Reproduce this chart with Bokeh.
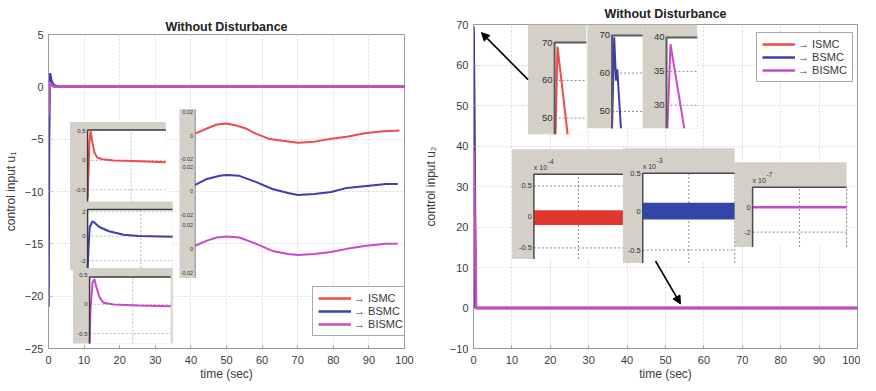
from bokeh.plotting import figure
from bokeh.layouts import row, column
from bokeh.models import Range1d, Legend, LegendItem, Arrow, NormalHead
from bokeh.core.properties import value
from bokeh.embed import file_html
from bokeh.resources import INLINE

FONT = "Liberation Sans"
TXT = "#3a3a3a"
GRAY = "#d4d0c8"
RED, BLUE, MAG = "#f24a4a", "#3c3cb4", "#c94ac9"
BAND_RED, BAND_BLUE = "#e0382e", "#3346a8"

# ---------------- data: left panel (control input u1) ----------------
x_ticks = [0, 10, 20, 30, 40, 50, 60, 70, 80, 90, 100]
u1_ticks = [5, 0, -5, -10, -15, -20, -25]
u1_ismc_t = [0, 0.2, 0.5, 1.0, 2.0, 100]
u1_ismc = [-0.6, 0.3, 0.5, 0.1, 0.0, 0.0]
u1_bsmc_t = [0, 0.15, 0.4, 0.8, 1.5, 3, 100]
u1_bsmc = [-21, -5, 1.3, 0.6, 0.15, 0.0, 0.0]
u1_bismc_t = [0, 0.2, 0.5, 1.0, 2.0, 100]
u1_bismc = [-2.9, -0.5, 0.45, 0.1, 0.0, 0.0]

# zoom of the start (insets A, B, C)
a_t = [0, 0.1, 0.2, 0.35, 0.55, 0.8, 1.1, 1.7, 3.0, 5.3, 9.0]
a_u = [-0.65, -0.2, 0.3, 0.5, 0.3, 0.13, 0.05, 0.02, 0.0, -0.01, -0.03]
a_ticks, a_labels = [0.5, 0, -0.5], ["0.5", "0", "-0.5"]
b_t = [0, 0.1, 0.2, 0.45, 0.65, 1.1, 2.0, 3.4, 4.8, 8.0]
b_u = [-2.6, -0.7, 0.75, 1.2, 1.1, 0.75, 0.4, 0.12, 0.02, -0.05]
b_ticks, b_labels = [2, 0, -2], ["2", "0", "-2"]
c_t = [0, 0.1, 0.35, 0.55, 0.8, 1.15, 1.6, 2.8, 5.6, 9.4]
c_u = [-0.67, -0.1, 0.38, 0.43, 0.29, 0.12, 0.03, 0.0, -0.02, -0.03]
c_ticks, c_labels = [0.5, 0, -0.5], ["0.5", "0", "-0.5"]

# zoom of the steady state (inset D)
d_red_t = [41.2, 44.5, 47.3, 50.0, 52.7, 55.5, 58.2, 61.8, 65.7, 70.1, 74.7, 79.4, 83.8, 88.5, 93.1, 98.6]
d_red = [0.0017, 0.0060, 0.0094, 0.0102, 0.0085, 0.0060, 0.0017, -0.0026, -0.0043, -0.0060,
         -0.0051, -0.0026, -0.0009, 0.0017, 0.0034, 0.0043]
d_blue_t = [41.2, 44.5, 48.1, 50.0, 53.6, 58.2, 62.9, 67.3, 70.1, 74.7, 79.4, 83.8, 89.3, 94.8, 98.1]
d_blue = [0.0051, 0.0102, 0.0128, 0.0136, 0.0128, 0.0077, 0.0017, -0.0017, -0.0034, -0.0026,
          -0.0009, 0.0026, 0.0043, 0.0060, 0.0060]
d_mag_t = [41.2, 44.5, 47.3, 50.0, 53.6, 58.2, 62.9, 67.3, 70.1, 74.7, 79.4, 83.8, 89.3, 94.8, 98.1]
d_mag = [0.0026, 0.0068, 0.0094, 0.0102, 0.0094, 0.0043, -0.0017, -0.0043, -0.0051, -0.0043,
         -0.0026, 0.0, 0.0026, 0.0043, 0.0043]
d_ticks, d_labels = [0.02, 0, -0.02], ["0.02", "0", "-0.02"]

# ---------------- data: right panel (control input u2) ----------------
u2_ticks = [70, 60, 50, 40, 30, 20, 10, 0, -10]
u2_ismc_t = [0, 0.03, 0.6, 100]
u2_ismc = [46, 68, 0, 0]
u2_bsmc_t = [0, 0.02, 0.5, 100]
u2_bsmc = [45, 69.5, 0, 0]
u2_bismc_t = [0, 0.03, 0.7, 100]
u2_bismc = [27, 38.8, 0, 0]

e_t, e_u = [0.03, 0.09, 0.41], [45.7, 69.0, 45.7]
e_ticks, e_labels, e_grid = [70, 60, 50], ["70", "60", "50"], [60, 50]
f_t, f_u = [0.0, 0.07, 0.13, 0.17, 0.29], [45.6, 69.3, 58.0, 61.0, 45.6]
f_ticks, f_labels, f_grid = [70, 60, 50], ["70", "60", "50"], [60, 50]
g_t, g_u = [0.03, 0.13, 0.58], [26.6, 39.0, 26.6]
g_ticks, g_labels, g_grid = [40, 35, 30], ["40", "35", "30"], [35, 30]

h_t, h_hi, h_lo = [0, 1], [0.11, 0.11], [-0.13, -0.13]
h_ticks, h_labels, h_grid, h_exp = [0.5, 0, -0.5], ["0.5", "0", "-0.5"], [0.5, -0.5], "-4"
i_t, i_hi, i_lo = [0, 1], [0.117, 0.117], [-0.104, -0.104]
i_ticks, i_labels, i_grid, i_exp = [0.5, 0, -0.5], ["0.5", "0", "-0.5"], [-0.5], "-3"
j_t, j_u = [0, 1], [0.0, 0.0]
j_ticks, j_labels, j_grid, j_exp = [0, -2], ["0", "-2"], [-2], "-7"

legend_labels = ["\u2192 ISMC", "\u2192 BSMC", "\u2192 BISMC"]

# ---------------- layout (parent data units) ----------------
L = dict(
    A_box=(6.04, 32.97, -11.06, -3.37), A_ax=(10.99, 32.97, -11.06, -4.13), A_x=(0, 9), A_y=(-0.72, 0.52),
    B_box=(6.04, 34.89, -17.5, -10.96), B_ax=(10.99, 34.89, -17.31, -11.73), B_x=(0, 8), B_y=(-2.6, 2.17),
    C_box=(6.87, 34.89, -24.52, -17.31), C_ax=(11.54, 34.34, -24.52, -18.17), C_x=(0, 9.4), C_y=(-0.67, 0.47),
    D_strip=(36.8, 41.2, -18.27, -2.12),
    D_red_y=(-6.92, -2.40), D_blue_y=(-12.21, -7.69), D_mag_y=(-17.79, -13.17),
    E_box=(14.18, 29.38, 42.89, 70.0), E_ax=(21.13, 29.38, 42.89, 65.57), E_y=(45.7, 70.1),
    F_box=(29.64, 44.07, 44.37, 70.0), F_ax=(36.08, 44.07, 44.37, 67.29), F_y=(45.6, 69.8),
    G_box=(44.07, 58.25, 44.37, 70.0), G_ax=(50.26, 58.25, 44.37, 66.80), G_y=(26.6, 40.0),
    H_box=(10.05, 38.92, 12.08, 39.19), H_ax=(15.72, 38.92, 12.08, 33.03), H_y=(-0.68, 0.69),
    I_box=(38.92, 68.04, 11.09, 39.44), I_ax=(44.07, 68.04, 11.09, 33.28), I_y=(-0.67, 0.5),
    J_box=(68.04, 97.16, 15.04, 35.99), J_ax=(72.68, 97.16, 15.04, 29.82), J_y=(-3.2, 1.6),
    arrow1=(14.2, 56.4, 2.06, 68.0), arrow2=(47.4, 11.6, 53.9, 1.0),
)


def style_main(p, ylabel, yticks):
    p.title.text = "Without Disturbance"
    p.title.align = "center"
    p.title.text_font = FONT
    p.title.text_font_size = "12.5px"
    p.title.text_font_style = "bold"
    p.title.text_color = "#222222"
    p.title.standoff = 2
    p.xaxis.ticker = x_ticks
    p.yaxis.ticker = yticks
    p.xaxis.axis_label = "time (sec)"
    p.yaxis.axis_label = ylabel
    for ax in (p.xaxis[0], p.yaxis[0]):
        ax.axis_label_text_font = FONT
        ax.axis_label_text_font_size = "12px"
        ax.axis_label_text_font_style = "normal"
        ax.axis_label_text_color = TXT
        ax.major_label_text_font = FONT
        ax.major_label_text_font_size = "11px"
        ax.major_label_text_color = TXT
        ax.axis_line_color = "#9a9a9a"
        ax.major_tick_line_color = "#9a9a9a"
        ax.major_tick_in = 3
        ax.major_tick_out = 0
        ax.minor_tick_line_color = None
        ax.major_label_standoff = 5
    p.xaxis.major_label_standoff = 7
    p.xaxis.axis_label_standoff = 0
    p.yaxis.axis_label_standoff = 4
    for g in (p.xgrid[0], p.ygrid[0]):
        g.grid_line_color = "#d8d8d8"
        g.grid_line_dash = "2 2"
    p.outline_line_color = "#9a9a9a"


def gray_axes(p, box, ax):
    p.quad(left=box[0], right=box[1], bottom=box[2], top=box[3], fill_color=GRAY, line_color=None)
    p.quad(left=ax[0], right=ax[1], bottom=ax[2], top=ax[3], fill_color="white", line_color=None)


def sub(p, xs, ys, xt, yt):
    return p.subplot(x_source=Range1d(*xs), y_source=Range1d(*ys),
                     x_target=Range1d(*xt), y_target=Range1d(*yt))


def spines(s, xs, ys, color="#444444", width=1.5):
    s.line(x=[xs[0], xs[0], xs[1]], y=[ys[0], ys[1], ys[1]], line_color=color, line_width=width)


def hgrid(s, xs, vals, color="#8c8c8c"):
    for v in vals:
        s.line(x=[xs[0], xs[1]], y=[v, v], line_color=color, line_width=1, line_dash="2 2")


def vgrid(s, ys, vals, color="#8c8c8c"):
    for v in vals:
        s.line(x=[v, v], y=[ys[0], ys[1]], line_color=color, line_width=1, line_dash="2 2")


def ticklabels(s, x0, ticks, labels, size):
    s.text(x=[x0] * len(ticks), y=ticks, text=labels, text_align="right", text_baseline="middle",
           x_offset=-2, text_font=value(FONT), text_font_size=size, text_color="#333333")


# ======================= LEFT PANEL =======================
pl = figure(width=420, height=383, x_range=Range1d(0, 100), y_range=Range1d(-25, 5),
            output_backend="svg", toolbar_location=None,
            min_border_left=40, min_border_right=16, min_border_top=34, min_border_bottom=33)
style_main(pl, "control input u\u2081", u1_ticks)

r1 = pl.line(u1_ismc_t, u1_ismc, line_color=RED, line_width=2.5)
r2 = pl.line(u1_bsmc_t, u1_bsmc, line_color=BLUE, line_width=2.5)
r3 = pl.line(u1_bismc_t, u1_bismc, line_color=MAG, line_width=2.5)

for key, tt, uu, col, ticks, labels in (("A", a_t, a_u, RED, a_ticks, a_labels),
                                        ("B", b_t, b_u, BLUE, b_ticks, b_labels),
                                        ("C", c_t, c_u, MAG, c_ticks, c_labels)):
    box, ax, xs, ys = L[key + "_box"], L[key + "_ax"], L[key + "_x"], L[key + "_y"]
    gray_axes(pl, box, ax)
    s = sub(pl, xs, ys, (ax[0], ax[1]), (ax[2], ax[3]))
    hgrid(s, xs, [v for v in ticks if ys[0] < v < ys[1] - 0.05], color="#b8b8b8")
    vgrid(s, ys, [5], color="#b8b8b8")
    s.line(tt, uu, line_color=col, line_width=2)
    spines(s, xs, ys, color="#3a3a3a", width=1.5)
    ticklabels(s, xs[0], ticks, labels, "6px")

ds = L["D_strip"]
pl.quad(left=ds[0], right=ds[1], bottom=ds[2], top=ds[3], fill_color=GRAY, line_color=None)
pl.line(x=[ds[1], ds[1]], y=[ds[2], ds[3]], line_color="#888888", line_width=1)
for tt, uu, col, ykey in ((d_red_t, d_red, RED, "D_red_y"),
                          (d_blue_t, d_blue, BLUE, "D_blue_y"),
                          (d_mag_t, d_mag, MAG, "D_mag_y")):
    yt = L[ykey]
    s = sub(pl, (0, 100), (-0.02, 0.02), (0, 100), yt)
    s.line(tt, uu, line_color=col, line_width=2)
    ticklabels(s, ds[1], d_ticks, d_labels, "5.5px")

leg_l = Legend(items=[LegendItem(label=legend_labels[0], renderers=[r1]),
                      LegendItem(label=legend_labels[1], renderers=[r2]),
                      LegendItem(label=legend_labels[2], renderers=[r3])],
               location=(264, 12))
pl.add_layout(leg_l)

# ======================= RIGHT PANEL =======================
pr = figure(width=440, height=383, x_range=Range1d(0, 100), y_range=Range1d(-10, 70),
            output_backend="svg", toolbar_location=None,
            min_border_left=49, min_border_right=3, min_border_top=23, min_border_bottom=35)
style_main(pr, "control input u\u2082", u2_ticks)
pr.yaxis.axis_label_standoff = 9
pr.title.standoff = 8

q1 = pr.line(u2_ismc_t, u2_ismc, line_color=RED, line_width=2.5)
q2 = pr.line(u2_bsmc_t, u2_bsmc, line_color=BLUE, line_width=2.5)
q3 = pr.line(u2_bismc_t, u2_bismc, line_color=MAG, line_width=2.5)

for key, tt, uu, col, ticks, labels, grid in (("E", e_t, e_u, RED, e_ticks, e_labels, e_grid),
                                              ("F", f_t, f_u, BLUE, f_ticks, f_labels, f_grid),
                                              ("G", g_t, g_u, MAG, g_ticks, g_labels, g_grid)):
    box, ax, ys = L[key + "_box"], L[key + "_ax"], L[key + "_y"]
    xs = (0, 1)
    gray_axes(pr, box, ax)
    s = sub(pr, xs, ys, (ax[0], ax[1]), (ax[2], ax[3]))
    hgrid(s, xs, grid)
    s.line(tt, uu, line_color=col, line_width=2)
    spines(s, xs, ys, color="#5a5a5a", width=2)
    ticklabels(s, xs[0], ticks, labels, "9.5px")

for key, col, ticks, labels, grid, vg, expo in (("H", BAND_RED, h_ticks, h_labels, h_grid, [0.5], h_exp),
                                                ("I", BAND_BLUE, i_ticks, i_labels, i_grid, [0.5, 1.0], i_exp),
                                                ("J", MAG, j_ticks, j_labels, j_grid, [0.5, 1.0], j_exp)):
    box, ax, ys = L[key + "_box"], L[key + "_ax"], L[key + "_y"]
    xs = (0, 1)
    gray_axes(pr, box, ax)
    s = sub(pr, xs, ys, (ax[0], ax[1]), (ax[2], ax[3]))
    hgrid(s, xs, grid)
    vgrid(s, ys, vg)
    if key == "H":
        s.varea(x=h_t, y1=h_lo, y2=h_hi, fill_color=col)
    elif key == "I":
        s.varea(x=i_t, y1=i_lo, y2=i_hi, fill_color=col)
    else:
        s.line(j_t, j_u, line_color=col, line_width=2.5)
    spines(s, xs, ys, color="#4a4a4a", width=1.5)
    ticklabels(s, xs[0], ticks, labels, "7.5px")
    s.text(x=[xs[0]], y=[ys[1]], text=["x 10"], text_align="left", text_baseline="bottom",
           y_offset=-3, text_font=value(FONT), text_font_size="7px", text_color="#333333")
    s.text(x=[xs[0]], y=[ys[1]], text=[expo], text_align="left", text_baseline="bottom",
           x_offset=14, y_offset=-10, text_font=value(FONT), text_font_size="6.5px", text_color="#333333")

for k in ("arrow1", "arrow2"):
    x0, y0, x1, y1 = L[k]
    pr.add_layout(Arrow(end=NormalHead(size=8, fill_color="black", line_color="black"),
                        x_start=x0, y_start=y0, x_end=x1, y_end=y1,
                        line_color="black", line_width=1.6))

leg_r = Legend(items=[LegendItem(label=legend_labels[0], renderers=[q1]),
                      LegendItem(label=legend_labels[1], renderers=[q2]),
                      LegendItem(label=legend_labels[2], renderers=[q3])],
               location=(283, 266))
pr.add_layout(leg_r)

for lg in (leg_l, leg_r):
    lg.label_text_font = FONT
    lg.label_text_font_size = "11px"
    lg.label_text_color = TXT
    lg.glyph_width = 33
    lg.glyph_height = 12
    lg.label_height = 12
    lg.label_standoff = 3
    lg.spacing = 1
    lg.padding = 5
    lg.margin = 0
    lg.border_line_color = "#555555"
    lg.border_line_width = 1.2

layout = row(column(pl), column(pr))
open("out.html", "w").write(file_html(layout, INLINE))
